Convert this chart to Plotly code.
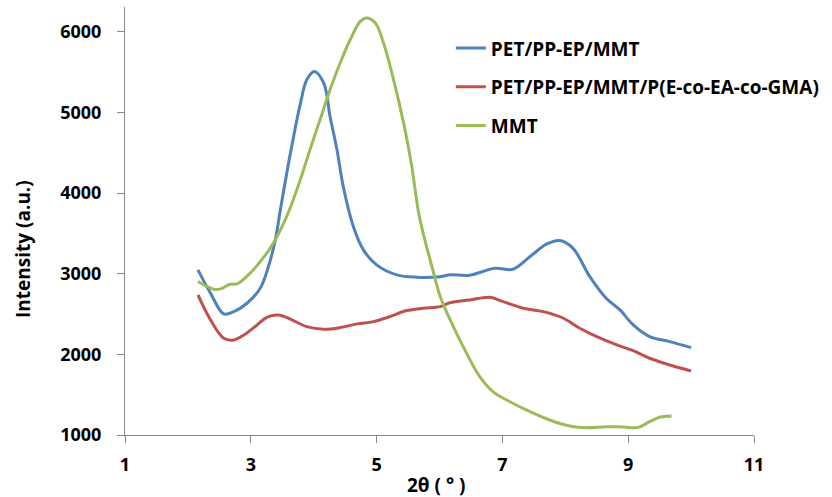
import plotly.graph_objects as go

# XRD patterns: 2-theta (degrees) vs intensity (a.u.)
theta_blue = [2.16, 2.36, 2.57, 2.73, 2.94, 3.15, 3.28, 3.39, 3.47, 3.63, 3.79, 3.89, 4.01,
              4.16, 4.26, 4.37, 4.47, 4.63, 4.79, 5.00, 5.32, 5.64, 6.01, 6.17, 6.48, 6.88,
              7.17, 7.44, 7.70, 7.91, 8.12, 8.39, 8.65, 8.87, 9.08, 9.34, 9.66, 10.0]
int_blue = [3048, 2759, 2502, 2530, 2634, 2820, 3089, 3420, 3792, 4496, 5116, 5405, 5509,
            5364, 4950, 4537, 4082, 3585, 3296, 3110, 2986, 2957, 2964, 2986, 2982, 3068,
            3056, 3213, 3366, 3411, 3317, 2964, 2696, 2551, 2365, 2220, 2158, 2084]

theta_red = [2.16, 2.36, 2.57, 2.73, 2.89, 3.10, 3.26, 3.44, 3.63, 3.89, 4.16, 4.42, 4.69,
             4.95, 5.21, 5.48, 5.74, 6.01, 6.17, 6.48, 6.80, 7.01, 7.33, 7.65, 7.97, 8.23,
             8.50, 8.82, 9.08, 9.34, 9.61, 10.0]
int_red = [2737, 2427, 2200, 2179, 2241, 2365, 2461, 2489, 2436, 2344, 2312, 2332, 2378,
           2406, 2468, 2543, 2572, 2592, 2642, 2675, 2709, 2654, 2572, 2530, 2448, 2324,
           2220, 2117, 2046, 1952, 1881, 1794]

theta_green = [2.16, 2.41, 2.52, 2.67, 2.78, 2.99, 3.15, 3.31, 3.57, 3.78, 3.94, 4.10, 4.26,
               4.42, 4.58, 4.74, 4.84, 4.98, 5.11, 5.27, 5.43, 5.56, 5.66, 5.74, 5.88, 6.01,
               6.22, 6.43, 6.64, 6.85, 7.12, 7.44, 7.75, 8.07, 8.34, 8.65, 8.92, 9.16, 9.34,
               9.50, 9.69]
int_green = [2903, 2808, 2812, 2870, 2874, 3007, 3151, 3317, 3709, 4150, 4537, 4909, 5281,
             5613, 5902, 6129, 6171, 6109, 5861, 5405, 4868, 4330, 3792, 3503, 3089, 2720,
             2344, 2014, 1724, 1537, 1413, 1289, 1186, 1112, 1091, 1103, 1099, 1095, 1165,
             1220, 1236]

series = [
    ("PET/PP-EP/MMT", theta_blue, int_blue, "#4F81BD"),
    ("PET/PP-EP/MMT/P(E-co-EA-co-GMA)", theta_red, int_red, "#C0504D"),
    ("MMT", theta_green, int_green, "#9BBB59"),
]

x_ticks = [1, 3, 5, 7, 9, 11]
y_ticks = [1000, 2000, 3000, 4000, 5000, 6000]

FONT = "Open Sans"

fig = go.Figure()
for name, xs, ys, color in series:
    fig.add_trace(go.Scatter(
        x=xs, y=ys, name=name, mode="lines", legendgroup=name,
        line=dict(color=color, width=3, shape="spline", smoothing=1.0),
    ))

axis_common = dict(
    showline=True, linecolor="#868686", linewidth=1,
    showgrid=False, zeroline=False,
    ticks="outside", ticklen=7, tickcolor="#868686", tickwidth=1,
    tickfont=dict(family=FONT, size=18, color="black", weight="bold"),
)

fig.update_layout(
    width=832, height=497,
    margin=dict(l=124.5, r=78, t=7, b=62, autoexpand=False),
    paper_bgcolor="white", plot_bgcolor="white",
    xaxis=dict(range=[1, 11], tickvals=x_ticks, ticklabelstandoff=6, **axis_common),
    yaxis=dict(range=[1000, 6308], tickvals=y_ticks, ticklabelstandoff=12, **axis_common),
    showlegend=True,
    legend=dict(
        x=0.518, y=0.948, xanchor="left", yanchor="top",
        bgcolor="rgba(0,0,0,0)", borderwidth=0,
        font=dict(family=FONT, size=19, color="black", weight="bold"),
        tracegroupgap=11,
    ),
    annotations=[
        dict(text="Intensity (a.u.)", textangle=-90, xref="paper", yref="paper",
             x=-0.162, y=0.435, xanchor="center", yanchor="middle", showarrow=False,
             font=dict(family=FONT, size=19, color="black", weight="bold")),
        dict(text="2θ ( ° )", xref="paper", yref="paper",
             x=0.495, y=-0.117, xanchor="center", yanchor="middle", showarrow=False,
             font=dict(family=FONT, size=19, color="black", weight="bold")),
    ],
)

fig.write_html("out.html")
